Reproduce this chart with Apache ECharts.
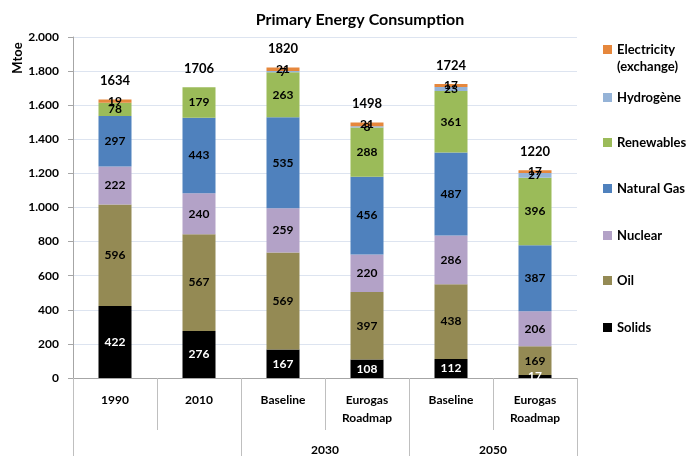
<!DOCTYPE html>
<html>
<head>
<meta charset="utf-8">
<script src="https://cdn.jsdelivr.net/npm/echarts@6/dist/echarts.min.js"></script>
<style>
  html, body { margin: 0; padding: 0; background: #fff; }
  #main { width: 691px; height: 456px; }
</style>
</head>
<body>
<div id="main"></div>
<script>
var categories = ['1990', '2010', 'Baseline', 'Eurogas\nRoadmap', 'Baseline', 'Eurogas\nRoadmap'];
var groups = ['', '2030', '2050'];
var solids = [422, 276, 167, 108, 112, 17];
var oil = [596, 567, 569, 397, 438, 169];
var nuclear = [222, 240, 259, 220, 286, 206];
var naturalGas = [297, 443, 535, 456, 487, 387];
var renewables = [78, 179, 263, 288, 361, 396];
var hydrogen = [0, 0, 7, 8, 23, 27];
var electricity = [19, 0, 21, 21, 17, 17];
var totals = [1634, 1706, 1820, 1498, 1724, 1220];
var yTicks = [0, 200, 400, 600, 800, 1000, 1200, 1400, 1600, 1800, 2000];

var FONT = 'Lato';
var myChart = echarts.init(document.getElementById('main'));

function segLabel(color) {
    return {
        show: true,
        position: 'inside',
        color: color,
        fontFamily: FONT,
        fontWeight: 'bold',
        fontSize: 12,
        formatter: function (p) {
            return p.value > 0 ? p.value : '';
        }
    };
}

function makeSeries(name, data, color, labelColor) {
    return {
        name: name,
        type: 'bar',
        stack: 'total',
        barWidth: 33,
        data: data,
        itemStyle: { color: color },
        label: segLabel(labelColor || '#000'),
        emphasis: { disabled: true }
    };
}

// legend, one per item so each can sit where the original has it
var legendNames = ['Electricity', 'Hydrogène', 'Renewables', 'Natural Gas', 'Nuclear', 'Oil', 'Solids'];
var legendTops = [36, 84, 129, 175, 222, 267, 314];
var legends = legendNames.map(function (n, i) {
    return {
        data: [n],
        left: 598,
        top: legendTops[i],
        orient: 'vertical',
        itemWidth: 9,
        itemHeight: 9,
        selectedMode: false,
        icon: 'rect',
        textStyle: {
            fontFamily: FONT,
            fontWeight: 'bold',
            fontSize: 13,
            color: '#000',
            lineHeight: 17
        }
    };
});

var option = {
    animation: false,
    backgroundColor: '#fff',
    title: {
        text: 'Primary Energy Consumption',
        left: 355,
        top: 7,
        textAlign: 'center',
        textStyle: {
            fontFamily: FONT,
            fontWeight: 'bold',
            fontSize: 16,
            color: '#000'
        }
    },
    legend: legends,
    grid: {
        left: 73,
        right: 114,
        top: 37,
        bottom: 78
    },
    graphic: [{
        type: 'text',
        x: 18,
        y: 58,
        rotation: Math.PI / 2,
        style: {
            text: 'Mtoe',
            fontFamily: FONT,
            fontWeight: 'bold',
            fontSize: 13,
            fill: '#000',
            align: 'center',
            verticalAlign: 'middle'
        }
    }, {
        type: 'text',
        x: 617,
        y: 67,
        style: {
            text: '(exchange)',
            fontFamily: FONT,
            fontWeight: 'bold',
            fontSize: 13,
            fill: '#000',
            align: 'left',
            verticalAlign: 'middle'
        }
    }],
    xAxis: [{
        type: 'category',
        data: categories,
        position: 'bottom',
        axisLine: { lineStyle: { color: '#a6a6a6' } },
        axisTick: {
            show: true,
            interval: 0,
            length: 52,
            lineStyle: { color: '#bfbfbf' }
        },
        axisLabel: {
            interval: 0,
            margin: 13,
            color: '#000',
            fontFamily: FONT,
            fontWeight: 'bold',
            fontSize: 12,
            lineHeight: 18
        }
    }, {
        type: 'category',
        data: groups,
        position: 'bottom',
        axisLine: { show: false },
        axisTick: {
            show: true,
            interval: 0,
            length: 80,
            lineStyle: { color: '#bfbfbf' }
        },
        axisLabel: {
            interval: 0,
            margin: 66,
            color: '#000',
            fontFamily: FONT,
            fontWeight: 'bold',
            fontSize: 12
        }
    }],
    yAxis: {
        type: 'value',
        min: yTicks[0],
        max: yTicks[yTicks.length - 1],
        interval: 200,
        axisLine: { show: true, lineStyle: { color: '#a6a6a6' } },
        axisTick: { show: true, length: 5, lineStyle: { color: '#a6a6a6' } },
        splitLine: { lineStyle: { color: '#dde4f0' } },
        axisLabel: {
            margin: 14,
            color: '#000',
            fontFamily: FONT,
            fontWeight: 'bold',
            fontSize: 12,
            formatter: function (v) {
                return String(v).replace(/\B(?=(\d{3})+(?!\d))/g, '.');
            }
        }
    },
    series: [
        makeSeries('Solids', solids, '#000000', '#ffffff'),
        makeSeries('Oil', oil, '#948a54'),
        makeSeries('Nuclear', nuclear, '#b3a2c7'),
        makeSeries('Natural Gas', naturalGas, '#4f81bd'),
        makeSeries('Renewables', renewables, '#9bbb59'),
        makeSeries('Hydrogène', hydrogen, '#95b3d7'),
        makeSeries('Electricity', electricity, '#e6873c'),
        {
            name: 'Total',
            type: 'bar',
            stack: 'total',
            barWidth: 33,
            data: totals.map(function () { return 0; }),
            itemStyle: { color: 'transparent' },
            label: {
                show: true,
                position: 'top',
                distance: 12,
                color: '#000',
                fontFamily: FONT,
                fontWeight: 'bold',
                fontSize: 13,
                formatter: function (p) {
                    return totals[p.dataIndex];
                }
            },
            emphasis: { disabled: true }
        }
    ]
};

myChart.setOption(option);
</script>
</body>
</html>
